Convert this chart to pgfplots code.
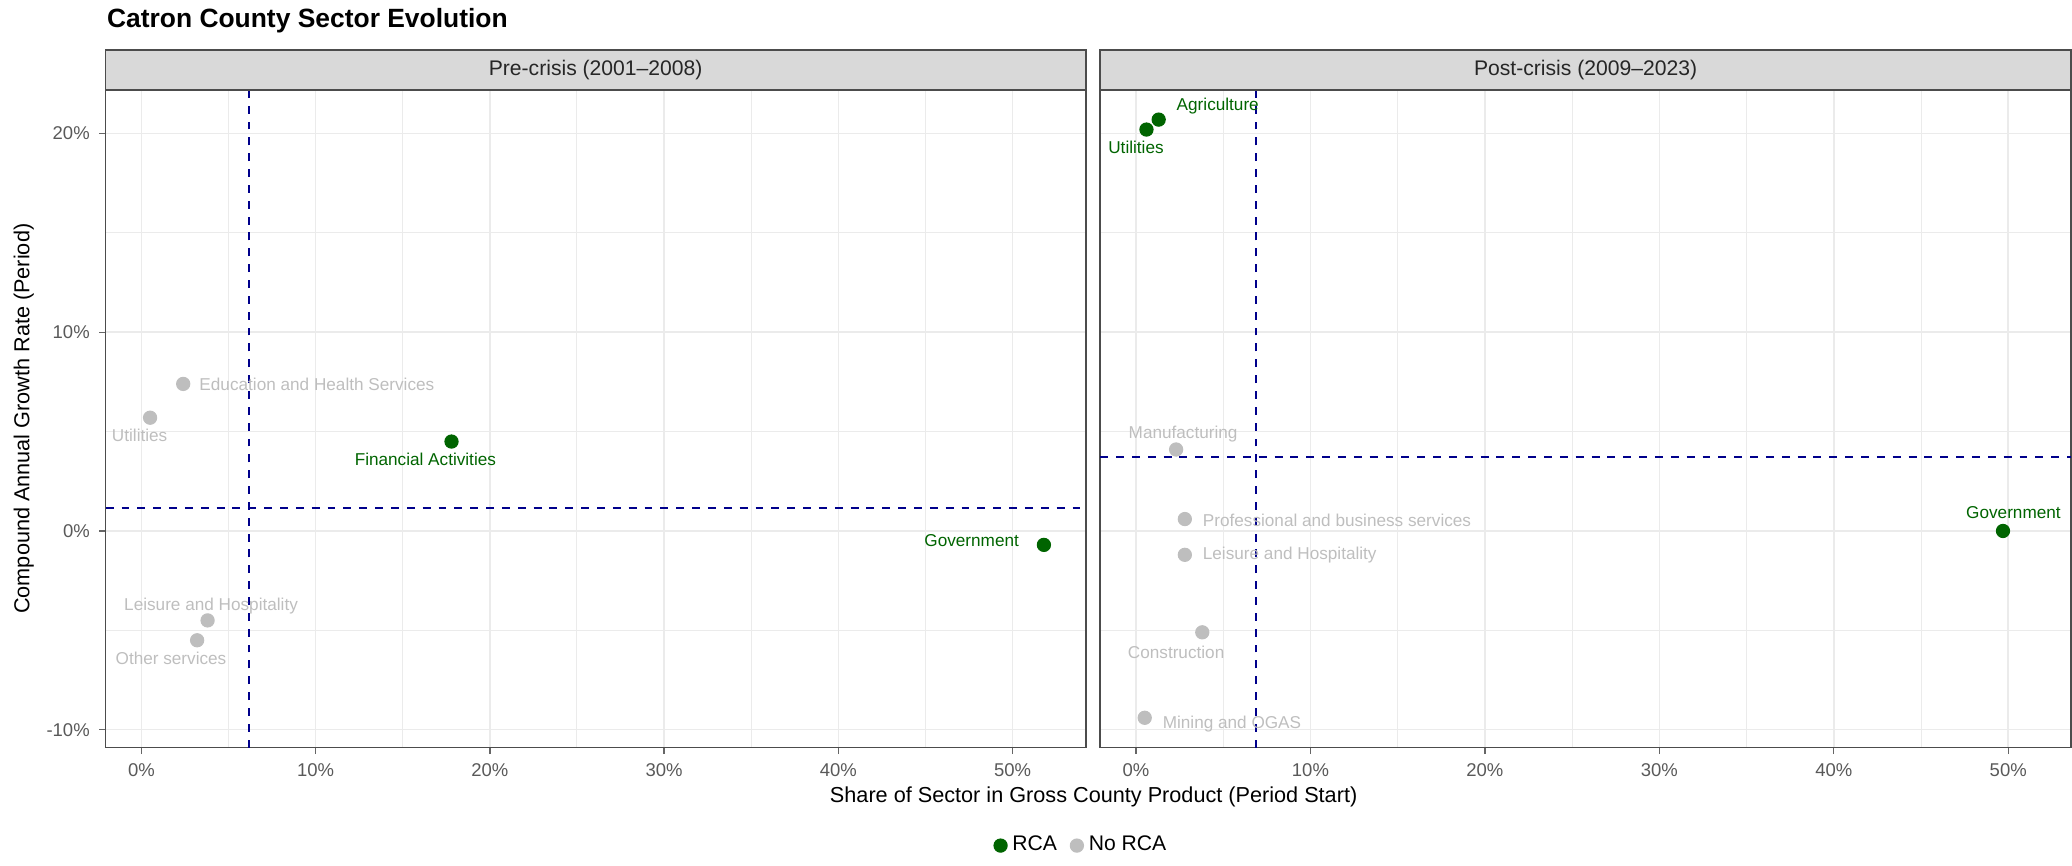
\documentclass[border=0pt]{standalone}
\usepackage{pgfplots}
\pgfplotsset{compat=1.18}
\usepackage{fontspec}
\setmainfont{Liberation Sans}
\definecolor{rca}{HTML}{006400}
\definecolor{norca}{HTML}{BEBEBE}
\definecolor{vl}{HTML}{00008B}
\definecolor{gridc}{HTML}{EBEBEB}
\tikzset{lab/.style={font=\fontsize{6.5}{7.5}\selectfont}}
\begin{document}
\begin{tikzpicture}
\path (0pt,0pt) rectangle (784pt,-324pt);
\pgfplotsset{
  panel/.style={
    anchor=north west, height=249pt, scale only axis,
    xmin=-2.05, ymin=-10.9, ymax=22.2,
    xtick={0,10,20,30,40,50}, xticklabels={0\%,10\%,20\%,30\%,40\%,50\%},
    minor xtick={5,15,25,35,45},
    ytick={-10,0,10,20}, minor ytick={-5,5,15},
    grid=both, major grid style={gridc, line width=0.6pt}, minor grid style={gridc, line width=0.35pt},
    axis line style={draw=black!70, line width=0.6pt},
    tick align=outside, xtick pos=bottom, ytick pos=left,
    major tick length=2.5pt, minor tick length=0pt,
    tick style={black!60, line width=0.5pt},
    ticklabel style={font=\fontsize{7}{8}\selectfont, text=black!65},
    /pgf/number format/assume math mode=true,
    clip=false,
    pts/.style={only marks, mark=*, mark size=2.5pt},
    vln/.style={vl, dashed, line width=0.75pt, mark=none},
  }
}
% Left panel
\begin{axis}[panel, name=L, at={(40pt,-34pt)}, width=371pt, xmax=54.2,
  yticklabels={-10\%,0\%,10\%,20\%},
  legend columns=2, legend style={at={(0.997,-0.149)}, anchor=center, draw=none, fill=none,
    font=\fontsize{8}{9}\selectfont, /tikz/every even column/.append style={column sep=3pt}}]
\addplot[vln, forget plot] coordinates {(6.2,-10.9) (6.2,22.2)};
\addplot[vln, forget plot] coordinates {(-2.05,1.15) (54.2,1.15)};
\addplot[pts, rca, mark options={fill=rca}] coordinates {(17.8,4.5) (51.8,-0.7)};
\addplot[pts, norca, mark options={fill=norca}] coordinates {(0.5,5.7) (2.4,7.4) (3.8,-4.5) (3.2,-5.5)};
\legend{RCA,No RCA}
\node[lab, text=rca] at (axis cs:16.3,3.6) {Financial Activities};
\node[lab, text=rca, anchor=east] at (axis cs:50.9,-0.5) {Government};
\node[lab, text=norca] at (axis cs:-0.1,4.8) {Utilities};
\node[lab, text=norca, anchor=west] at (axis cs:2.8,7.4) {Education and Health Services};
\node[lab, text=norca] at (axis cs:4.0,-3.8) {Leisure and Hospitality};
\node[lab, text=norca] at (axis cs:1.7,-6.4) {Other services};
\end{axis}
% Right panel
\begin{axis}[panel, name=R, at={(416.5pt,-34pt)}, width=367.5pt, xmax=53.6, yticklabels={}, ytick style={draw=none}]
\addplot[vln] coordinates {(6.9,-10.9) (6.9,22.2)};
\addplot[vln] coordinates {(-2.05,3.7) (53.6,3.7)};
\addplot[pts, rca, mark options={fill=rca}] coordinates {(1.3,20.7) (0.6,20.2) (49.7,0.0)};
\addplot[pts, norca, mark options={fill=norca}] coordinates {(2.3,4.1) (2.8,0.6) (2.8,-1.2) (3.8,-5.1) (0.5,-9.4)};
\node[lab, text=rca, anchor=west] at (axis cs:1.8,21.4) {Agriculture};
\node[lab, text=rca] at (axis cs:0,19.3) {Utilities};
\node[lab, text=rca] at (axis cs:50.3,0.9) {Government};
\node[lab, text=norca] at (axis cs:2.7,4.9) {Manufacturing};
\node[lab, text=norca, anchor=west] at (axis cs:3.3,0.55) {Professional and business services};
\node[lab, text=norca, anchor=west] at (axis cs:3.3,-1.2) {Leisure and Hospitality};
\node[lab, text=norca] at (axis cs:2.3,-6.1) {Construction};
\node[lab, text=norca, anchor=west] at (axis cs:1.0,-9.7) {Mining and OGAS};
\end{axis}
\foreach \a/\t in {L/{Pre-crisis (2001--2008)},R/{Post-crisis (2009--2023)}}{
  \draw[draw=black!70, fill=black!15, line width=0.6pt] (\a.north west) rectangle ([yshift=15pt]\a.north east);
  \node[font=\fontsize{8}{9}\selectfont, text=black!85] at ([yshift=7.5pt]\a.north) {\t};
}
\node[font=\bfseries\fontsize{10}{12}\selectfont, anchor=west] at (37pt,-8pt) {Catron County Sector Evolution};
\node[font=\fontsize{8.2}{10}\selectfont] at (414pt,-301.5pt) {Share of Sector in Gross County Product (Period Start)};
\node[font=\fontsize{8.2}{10}\selectfont, rotate=90] at (9pt,-158.5pt) {Compound Annual Growth Rate (Period)};
\end{tikzpicture}
\end{document}
